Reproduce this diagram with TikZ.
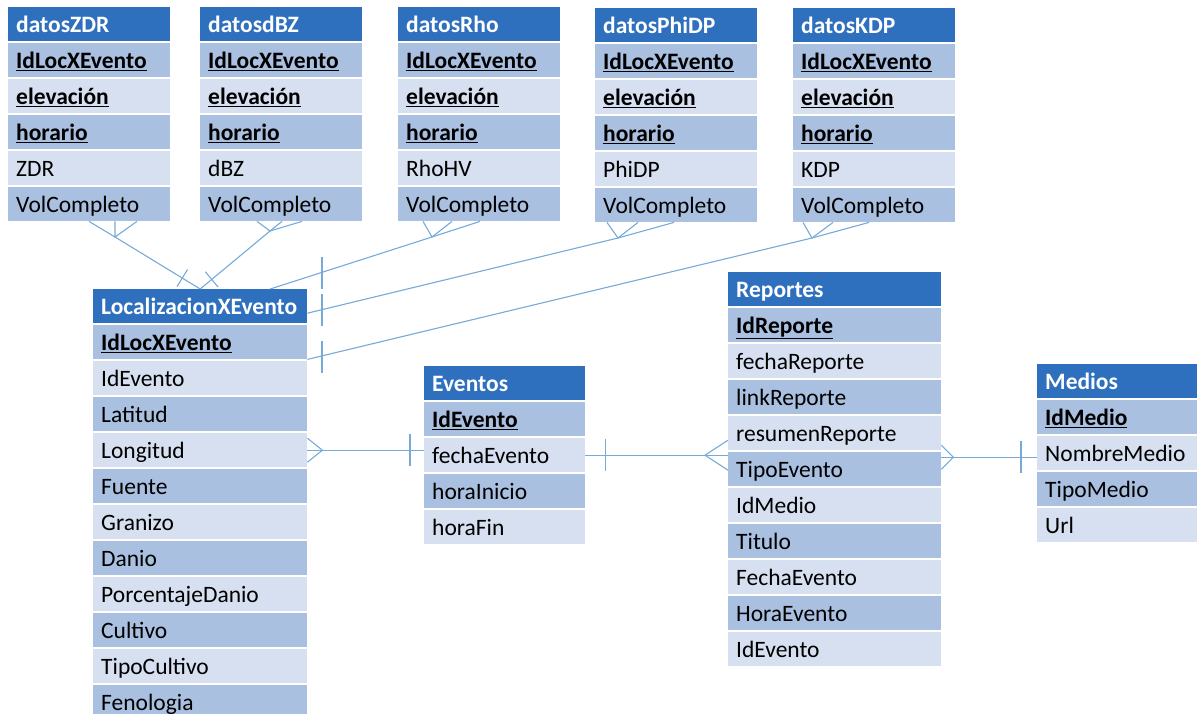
\documentclass[tikz,border=0pt]{standalone}
\usepackage{fontspec}
\setmainfont{Carlito}
\usepackage{tikz}
\usetikzlibrary{calc}
\definecolor{ERHeadColor}{RGB}{46,112,190}
\definecolor{ERRowDark}{RGB}{170,192,224}
\definecolor{ERRowLight}{RGB}{214,224,240}
\definecolor{ERLinkColor}{RGB}{118,170,216}
\newcommand{\pk}[1]{\textbf{\underline{#1}}}
% name, x, y, text width, title, fields
\newcommand{\ertable}[6]{%
   \node[hdr,text width=#4] (#1-0) at (#2,#3) {#5};
   \foreach \fname [count=\i] in {#6} {
      \pgfmathtruncatemacro\p{mod(\i,2)}
      \node[fld\p,text width=#4] (#1-\i) at (#2,#3+36*\i) {\fname};
   }}
% bar across the line A->B, at distance d from A
\newcommand{\onebar}[3]{%
   \draw[rel] ($(#1)!#3!(#2)!10pt!90:(#2)$) -- ($(#1)!#3!(#2)!10pt!-90:(#2)$);}

\begin{document}
\begin{tikzpicture}[x=1pt,y=-1pt,
   hdr/.style={anchor=north west,fill=ERHeadColor,text=white,font=\fontsize{23.5}{27}\selectfont\bfseries,inner xsep=8pt,inner ysep=0pt,minimum height=34pt,align=left,execute at begin node=\rule[-6pt]{0pt}{28pt}},
   fld1/.style={hdr,fill=ERRowDark,text=black,font=\fontsize{23.5}{27}\selectfont},
   fld0/.style={fld1,fill=ERRowLight},
   rel/.style={draw=ERLinkColor,line width=1.1pt}]
\useasboundingbox (0,0) rectangle (1197,714);
\clip (0,0) rectangle (1197,714);
\ertable{zdr}{8}{7}{146pt}{datosZDR}{\pk{IdLocXEvento},\pk{elevación},\pk{horario},ZDR,VolCompleto}
\ertable{dbz}{200}{7}{146pt}{datosdBZ}{\pk{IdLocXEvento},\pk{elevación},\pk{horario},dBZ,VolCompleto}
\ertable{rho}{398}{7}{146pt}{datosRho}{\pk{IdLocXEvento},\pk{elevación},\pk{horario},RhoHV,VolCompleto}
\ertable{phi}{595}{8}{146pt}{datosPhiDP}{\pk{IdLocXEvento},\pk{elevación},\pk{horario},PhiDP,VolCompleto}
\ertable{kdp}{793}{8}{146pt}{datosKDP}{\pk{IdLocXEvento},\pk{elevación},\pk{horario},KDP,VolCompleto}
\ertable{loc}{93}{289}{198pt}{LocalizacionXEvento}{\pk{IdLocXEvento},IdEvento,Latitud,Longitud,Fuente,Granizo,Danio,PorcentajeDanio,Cultivo,TipoCultivo,Fenologia}
\ertable{ev}{424}{366}{145pt}{Eventos}{\pk{IdEvento},fechaEvento,horaInicio,horaFin}
\ertable{rep}{728}{272}{197pt}{Reportes}{\pk{IdReporte},fechaReporte,linkReporte,resumenReporte,TipoEvento,IdMedio,Titulo,FechaEvento,HoraEvento,IdEvento}
\ertable{med}{1037}{364}{144pt}{Medios}{\pk{IdMedio},NombreMedio,TipoMedio,Url}

% datos* -> LocalizacionXEvento
\coordinate (cZDR) at (115,237);
\draw[rel] (loc-0.north) -- (cZDR) -- ([xshift=81pt]zdr-5.south west);
\draw[rel] ([xshift=107pt]zdr-5.south west) -- (cZDR) -- ([xshift=129pt]zdr-5.south west);
\onebar{loc-0.north}{cZDR}{21pt}
\coordinate (cDBZ) at (270,231);
\draw[rel] (loc-0.north) -- (cDBZ) -- ([xshift=82pt]dbz-5.south west);
\draw[rel] ([xshift=57pt]dbz-5.south west) -- (cDBZ) -- ([xshift=102pt]dbz-5.south west);
\onebar{loc-0.north}{cDBZ}{15pt}
\coordinate (cRho) at (432,237);
\draw[rel] ([xshift=70pt]loc-0.north) -- (cRho) -- ([xshift=82pt]rho-5.south west);
\draw[rel] ([xshift=25pt]rho-5.south west) -- (cRho) -- ([xshift=54pt]rho-5.south west);
\coordinate (cPhi) at (618,238);
\draw[rel] ([yshift=-7pt]loc-0.east) -- (cPhi) -- ([xshift=79pt]phi-5.south west);
\draw[rel] ([xshift=12pt]phi-5.south west) -- (cPhi) -- ([xshift=43pt]phi-5.south west);
\coordinate (cKDP) at (812,238);
\draw[rel] (loc-1.south east) -- (cKDP) -- ([xshift=76pt]kdp-5.south west);
\draw[rel] ([xshift=10pt]kdp-5.south west) -- (cKDP) -- ([xshift=40pt]kdp-5.south west);
\foreach \b in {273,310,357} {
   \draw[rel] (322,\b-16) -- (322,\b+16);
}

% LocalizacionXEvento -> Eventos
\coordinate (pEv) at (loc-4.east -| ev-2.west);
\coordinate (cLoc) at ([xshift=15pt]loc-4.east);
\draw[rel] (loc-4.east) -- (pEv);
\draw[rel] ([yshift=12pt]loc-4.east) -- (cLoc) -- ([yshift=-12pt]loc-4.east);
\draw[rel] ([xshift=-14pt,yshift=16pt]pEv) -- ([xshift=-14pt,yshift=-16pt]pEv);

% Eventos -> Reportes
\coordinate (pRep) at (ev-2.east -| rep-5.west);
\coordinate (cRep) at ([xshift=-23pt]pRep);
\draw[rel] (ev-2.east) -- (pRep);
\draw[rel] ([yshift=15pt]pRep) -- (cRep) -- ([yshift=-15pt]pRep);
\draw[rel] ([xshift=20pt,yshift=16pt]ev-2.east) -- ([xshift=20pt,yshift=-16pt]ev-2.east);

% Reportes -> Medios
\coordinate (pMed) at ([yshift=-4pt]med-2.west);
\coordinate (pRep2) at (pMed -| rep-5.east);
\coordinate (cRep2) at ([xshift=12pt]pRep2);
\draw[rel] (pRep2) -- (pMed);
\draw[rel] ([yshift=12pt]pRep2) -- (cRep2) -- ([yshift=-12pt]pRep2);
\draw[rel] ([xshift=-16pt,yshift=16pt]pMed) -- ([xshift=-16pt,yshift=-16pt]pMed);
\end{tikzpicture}
\end{document}
